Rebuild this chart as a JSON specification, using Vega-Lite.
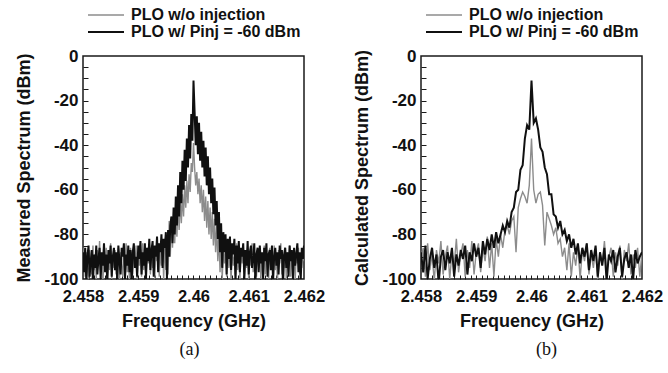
{
  "$schema": "https://vega.github.io/schema/vega-lite/v6.json",
  "padding": {"left": 15, "top": 6, "right": 5, "bottom": 5},
  "background": "white",
  "config": {
    "view": {"stroke": "#1a1a1a", "strokeWidth": 1.5},
    "font": "Liberation Sans",
    "axis": {"grid": false, "domain": false, "labelColor": "#111", "titleColor": "#111", "labelFont": "Liberation Sans", "titleFont": "Liberation Sans", "labelFontWeight": "bold", "titleFontWeight": "bold", "labelFontSize": 16.5, "titleFontSize": 18, "tickColor": "#1a1a1a", "tickWidth": 1, "labelFlush": false},
    "axisLeft": {"labelFontSize": 17},
    "legend": {"orient": "none", "title": null, "direction": "vertical", "symbolType": "M-3,0H3", "symbolSize": 144, "symbolStrokeWidth": 1.5, "labelFont": "Liberation Sans", "labelFontSize": 16, "labelFontWeight": "bold", "labelColor": "#111", "labelOffset": 17, "labelLimit": 0, "rowPadding": 1}
  },
  "datasets": {
    "a": [
{"f":2.458,"g":-92,"k":-88},{"f":2.45802,"g":-86,"k":-97},{"f":2.45804,"g":-99,"k":-86},{"f":2.45806,"g":-88,"k":-101},{"f":2.45808,"g":-95,"k":-90},{"f":2.4581,"g":-101,"k":-85},{"f":2.45812,"g":-87,"k":-99},{"f":2.45814,"g":-93,"k":-92},{"f":2.45816,"g":-98,"k":-87},{"f":2.45818,"g":-85,"k":-103},
{"f":2.4582,"g":-96,"k":-89},{"f":2.45822,"g":-89,"k":-95},{"f":2.45824,"g":-100,"k":-85},{"f":2.45826,"g":-87,"k":-98},{"f":2.45828,"g":-94,"k":-91},{"f":2.4583,"g":-83,"k":-86},{"f":2.45832,"g":-97,"k":-100},{"f":2.45834,"g":-91,"k":-88},{"f":2.45836,"g":-102,"k":-94},{"f":2.45838,"g":-88,"k":-84},
{"f":2.4584,"g":-93,"k":-97},{"f":2.45842,"g":-86,"k":-89},{"f":2.45844,"g":-99,"k":-102},{"f":2.45846,"g":-90,"k":-87},{"f":2.45848,"g":-96,"k":-93},{"f":2.4585,"g":-84,"k":-85},{"f":2.45852,"g":-100,"k":-99},{"f":2.45854,"g":-89,"k":-90},{"f":2.45856,"g":-95,"k":-86},{"f":2.45858,"g":-87,"k":-96},
{"f":2.4586,"g":-98,"k":-88},{"f":2.45862,"g":-92,"k":-101},{"f":2.45864,"g":-86,"k":-85},{"f":2.45866,"g":-101,"k":-92},{"f":2.45868,"g":-88,"k":-98},{"f":2.4587,"g":-94,"k":-86},{"f":2.45872,"g":-99,"k":-90},{"f":2.45874,"g":-87,"k":-84},{"f":2.45876,"g":-92,"k":-100},{"f":2.45878,"g":-84,"k":-89},
{"f":2.4588,"g":-97,"k":-94},{"f":2.45882,"g":-90,"k":-85},{"f":2.45884,"g":-100,"k":-97},{"f":2.45886,"g":-86,"k":-87},{"f":2.45888,"g":-93,"k":-103},{"f":2.4589,"g":-98,"k":-88},{"f":2.45892,"g":-88,"k":-84},{"f":2.45894,"g":-95,"k":-95},{"f":2.45896,"g":-85,"k":-90},{"f":2.45898,"g":-101,"k":-99},
{"f":2.459,"g":-89,"k":-85},{"f":2.45902,"g":-94,"k":-91},{"f":2.45904,"g":-87,"k":-83},{"f":2.45906,"g":-99,"k":-98},{"f":2.45908,"g":-84,"k":-88},{"f":2.4591,"g":-96,"k":-94},{"f":2.45912,"g":-90,"k":-84},{"f":2.45914,"g":-100,"k":-100},{"f":2.45916,"g":-86,"k":-86},{"f":2.45918,"g":-93,"k":-92},
{"f":2.4592,"g":-88,"k":-82},{"f":2.45922,"g":-98,"k":-96},{"f":2.45924,"g":-85,"k":-87},{"f":2.45926,"g":-95,"k":-83},{"f":2.45928,"g":-89,"k":-99},{"f":2.4593,"g":-100,"k":-85},{"f":2.45932,"g":-86,"k":-90},{"f":2.45934,"g":-92,"k":-81},{"f":2.45936,"g":-84,"k":-97},{"f":2.45938,"g":-99,"k":-84},
{"f":2.4594,"g":-87,"k":-88},{"f":2.45942,"g":-94,"k":-80},{"f":2.45944,"g":-85,"k":-95},{"f":2.45946,"g":-100,"k":-82},{"f":2.45948,"g":-83,"k":-86},{"f":2.4595,"g":-96,"k":-79},{"f":2.45952,"g":-88,"k":-100},{"f":2.45954,"g":-98,"k":-78},{"f":2.45956,"g":-74,"k":-90},{"f":2.45958,"g":-90,"k":-76},
{"f":2.4596,"g":-72,"k":-72},{"f":2.45962,"g":-86,"k":-84},{"f":2.45964,"g":-70,"k":-68},{"f":2.45966,"g":-84,"k":-80},{"f":2.45968,"g":-68,"k":-63},{"f":2.4597,"g":-81,"k":-76},{"f":2.45972,"g":-66,"k":-58},{"f":2.45974,"g":-78,"k":-72},{"f":2.45976,"g":-64,"k":-52},{"f":2.45978,"g":-75,"k":-66},
{"f":2.4598,"g":-62,"k":-47},{"f":2.45982,"g":-72,"k":-60},{"f":2.45984,"g":-58,"k":-42},{"f":2.45986,"g":-68,"k":-56},{"f":2.45988,"g":-56,"k":-37},{"f":2.4599,"g":-66,"k":-50},{"f":2.45992,"g":-53,"k":-31},{"f":2.45994,"g":-61,"k":-46},{"f":2.45996,"g":-48,"k":-26},{"f":2.45998,"g":-52,"k":-38},
{"f":2.46,"g":-39,"k":-11},{"f":2.46002,"g":-50,"k":-25},{"f":2.46004,"g":-58,"k":-40},{"f":2.46006,"g":-52,"k":-27},{"f":2.46008,"g":-62,"k":-44},{"f":2.4601,"g":-55,"k":-30},{"f":2.46012,"g":-66,"k":-47},{"f":2.46014,"g":-58,"k":-34},{"f":2.46016,"g":-70,"k":-50},{"f":2.46018,"g":-60,"k":-38},
{"f":2.4602,"g":-74,"k":-54},{"f":2.46022,"g":-63,"k":-41},{"f":2.46024,"g":-77,"k":-58},{"f":2.46026,"g":-65,"k":-45},{"f":2.46028,"g":-80,"k":-62},{"f":2.4603,"g":-68,"k":-50},{"f":2.46032,"g":-82,"k":-66},{"f":2.46034,"g":-70,"k":-55},{"f":2.46036,"g":-85,"k":-71},{"f":2.46038,"g":-73,"k":-59},
{"f":2.4604,"g":-88,"k":-76},{"f":2.46042,"g":-76,"k":-65},{"f":2.46044,"g":-92,"k":-82},{"f":2.46046,"g":-80,"k":-70},{"f":2.46048,"g":-97,"k":-88},{"f":2.4605,"g":-84,"k":-75},{"f":2.46052,"g":-100,"k":-95},{"f":2.46054,"g":-86,"k":-79},{"f":2.46056,"g":-93,"k":-88},{"f":2.46058,"g":-87,"k":-80},
{"f":2.4606,"g":-99,"k":-98},{"f":2.46062,"g":-85,"k":-82},{"f":2.46064,"g":-95,"k":-91},{"f":2.46066,"g":-88,"k":-81},{"f":2.46068,"g":-101,"k":-96},{"f":2.4607,"g":-86,"k":-84},{"f":2.46072,"g":-94,"k":-89},{"f":2.46074,"g":-90,"k":-82},{"f":2.46076,"g":-98,"k":-101},{"f":2.46078,"g":-84,"k":-85},
{"f":2.4608,"g":-96,"k":-93},{"f":2.46082,"g":-89,"k":-83},{"f":2.46084,"g":-100,"k":-97},{"f":2.46086,"g":-87,"k":-86},{"f":2.46088,"g":-93,"k":-90},{"f":2.4609,"g":-85,"k":-84},{"f":2.46092,"g":-99,"k":-100},{"f":2.46094,"g":-90,"k":-87},{"f":2.46096,"g":-95,"k":-94},{"f":2.46098,"g":-86,"k":-83},
{"f":2.461,"g":-101,"k":-98},{"f":2.46102,"g":-88,"k":-88},{"f":2.46104,"g":-94,"k":-85},{"f":2.46106,"g":-84,"k":-95},{"f":2.46108,"g":-97,"k":-91},{"f":2.4611,"g":-89,"k":-84},{"f":2.46112,"g":-92,"k":-102},{"f":2.46114,"g":-99,"k":-89},{"f":2.46116,"g":-87,"k":-86},{"f":2.46118,"g":-95,"k":-97},
{"f":2.4612,"g":-86,"k":-85},{"f":2.46122,"g":-100,"k":-93},{"f":2.46124,"g":-90,"k":-88},{"f":2.46126,"g":-94,"k":-100},{"f":2.46128,"g":-85,"k":-86},{"f":2.4613,"g":-98,"k":-92},{"f":2.46132,"g":-88,"k":-84},{"f":2.46134,"g":-93,"k":-99},{"f":2.46136,"g":-100,"k":-89},{"f":2.46138,"g":-86,"k":-87},
{"f":2.4614,"g":-95,"k":-96},{"f":2.46142,"g":-89,"k":-85},{"f":2.46144,"g":-99,"k":-101},{"f":2.46146,"g":-85,"k":-90},{"f":2.46148,"g":-96,"k":-86},{"f":2.4615,"g":-90,"k":-94},{"f":2.46152,"g":-101,"k":-88},{"f":2.46154,"g":-87,"k":-98},{"f":2.46156,"g":-93,"k":-85},{"f":2.46158,"g":-84,"k":-91},
{"f":2.4616,"g":-98,"k":-87},{"f":2.46162,"g":-89,"k":-103},{"f":2.46164,"g":-95,"k":-89},{"f":2.46166,"g":-86,"k":-86},{"f":2.46168,"g":-100,"k":-95},{"f":2.4617,"g":-88,"k":-88},{"f":2.46172,"g":-94,"k":-99},{"f":2.46174,"g":-85,"k":-85},{"f":2.46176,"g":-99,"k":-92},{"f":2.46178,"g":-90,"k":-87},
{"f":2.4618,"g":-96,"k":-100},{"f":2.46182,"g":-87,"k":-86},{"f":2.46184,"g":-101,"k":-94},{"f":2.46186,"g":-88,"k":-89},{"f":2.46188,"g":-93,"k":-84},{"f":2.4619,"g":-86,"k":-97},{"f":2.46192,"g":-98,"k":-88},{"f":2.46194,"g":-89,"k":-101},{"f":2.46196,"g":-95,"k":-86},{"f":2.46198,"g":-87,"k":-91},
{"f":2.462,"g":-92,"k":-85}
    ],
    "b": [
{"f":2.458,"g":-91,"k":-88},{"f":2.45804,"g":-86,"k":-97},{"f":2.45808,"g":-99,"k":-85},{"f":2.45812,"g":-84,"k":-100},{"f":2.45816,"g":-96,"k":-91},{"f":2.4582,"g":-89,"k":-86},{"f":2.45824,"g":-101,"k":-95},{"f":2.45828,"g":-87,"k":-89},{"f":2.45832,"g":-93,"k":-102},{"f":2.45836,"g":-83,"k":-90},
{"f":2.4584,"g":-98,"k":-87},{"f":2.45844,"g":-90,"k":-96},{"f":2.45848,"g":-85,"k":-88},{"f":2.45852,"g":-100,"k":-93},{"f":2.45856,"g":-88,"k":-86},{"f":2.4586,"g":-94,"k":-99},{"f":2.45864,"g":-82,"k":-89},{"f":2.45868,"g":-97,"k":-94},{"f":2.45872,"g":-89,"k":-87},{"f":2.45876,"g":-84,"k":-91},
{"f":2.4588,"g":-99,"k":-85},{"f":2.45884,"g":-87,"k":-98},{"f":2.45888,"g":-95,"k":-88},{"f":2.45892,"g":-83,"k":-92},{"f":2.45896,"g":-98,"k":-84},{"f":2.459,"g":-88,"k":-90},{"f":2.45904,"g":-84,"k":-86},{"f":2.45908,"g":-97,"k":-95},{"f":2.45912,"g":-86,"k":-83},{"f":2.45916,"g":-92,"k":-89},
{"f":2.4592,"g":-81,"k":-82},{"f":2.45924,"g":-95,"k":-87},{"f":2.45928,"g":-84,"k":-80},{"f":2.45932,"g":-99,"k":-86},{"f":2.45936,"g":-82,"k":-79},{"f":2.4594,"g":-90,"k":-84},{"f":2.45944,"g":-80,"k":-80},{"f":2.45948,"g":-86,"k":-76},{"f":2.45952,"g":-78,"k":-79},{"f":2.45956,"g":-76,"k":-74},
{"f":2.4596,"g":-80,"k":-77},{"f":2.45964,"g":-74,"k":-70},{"f":2.45968,"g":-72,"k":-68},{"f":2.45972,"g":-88,"k":-61},{"f":2.45976,"g":-68,"k":-60},{"f":2.4598,"g":-64,"k":-51},{"f":2.45984,"g":-61,"k":-49},{"f":2.45988,"g":-63,"k":-37},{"f":2.45992,"g":-66,"k":-31},{"f":2.45996,"g":-58,"k":-33},
{"f":2.46,"g":-37,"k":-11},{"f":2.46004,"g":-60,"k":-30},{"f":2.46008,"g":-66,"k":-28},{"f":2.46012,"g":-62,"k":-33},{"f":2.46016,"g":-61,"k":-41},{"f":2.4602,"g":-67,"k":-43},{"f":2.46024,"g":-85,"k":-50},{"f":2.46028,"g":-70,"k":-53},{"f":2.46032,"g":-73,"k":-62},{"f":2.46036,"g":-76,"k":-62},
{"f":2.4604,"g":-80,"k":-71},{"f":2.46044,"g":-77,"k":-72},{"f":2.46048,"g":-84,"k":-77},{"f":2.46052,"g":-82,"k":-74},{"f":2.46056,"g":-90,"k":-80},{"f":2.4606,"g":-86,"k":-78},{"f":2.46064,"g":-96,"k":-83},{"f":2.46068,"g":-84,"k":-80},{"f":2.46072,"g":-99,"k":-86},{"f":2.46076,"g":-88,"k":-82},
{"f":2.4608,"g":-94,"k":-89},{"f":2.46084,"g":-85,"k":-84},{"f":2.46088,"g":-100,"k":-93},{"f":2.46092,"g":-87,"k":-86},{"f":2.46096,"g":-92,"k":-90},{"f":2.461,"g":-84,"k":-84},{"f":2.46104,"g":-98,"k":-96},{"f":2.46108,"g":-89,"k":-87},{"f":2.46112,"g":-95,"k":-92},{"f":2.46116,"g":-86,"k":-85},
{"f":2.4612,"g":-101,"k":-99},{"f":2.46124,"g":-88,"k":-88},{"f":2.46128,"g":-93,"k":-94},{"f":2.46132,"g":-83,"k":-86},{"f":2.46136,"g":-97,"k":-101},{"f":2.4614,"g":-90,"k":-89},{"f":2.46144,"g":-86,"k":-92},{"f":2.46148,"g":-99,"k":-87},{"f":2.46152,"g":-88,"k":-97},{"f":2.46156,"g":-94,"k":-90},
{"f":2.4616,"g":-85,"k":-86},{"f":2.46164,"g":-100,"k":-99},{"f":2.46168,"g":-87,"k":-91},{"f":2.46172,"g":-92,"k":-88},{"f":2.46176,"g":-84,"k":-95},{"f":2.4618,"g":-98,"k":-89},{"f":2.46184,"g":-89,"k":-100},{"f":2.46188,"g":-95,"k":-87},{"f":2.46192,"g":-86,"k":-93},{"f":2.46196,"g":-99,"k":-90},
{"f":2.462,"g":-88,"k":-88}
    ]
  },
  "resolve": {"scale": {"color": "independent", "strokeWidth": "independent"}},
  "spacing": 27,
  "hconcat": [
    {
      "width": 221, "height": 223,
      "data": {"name": "a"},
      "transform": [{"fold": ["g", "k"], "as": ["s", "p"]}],
      "title": {"text": "(a)", "orient": "bottom", "frame": "group", "anchor": "middle", "font": "Liberation Serif", "fontSize": 18, "fontWeight": "normal", "color": "#111", "offset": 10, "dx": -4},
      "layer": [
        {
          "mark": {"type": "line", "clip": true},
          "encoding": {
            "x": {"field": "f", "type": "quantitative", "scale": {"domain": [2.458, 2.462], "nice": false, "zero": false}, "axis": {"orient": "bottom", "values": [2.458, 2.459, 2.46, 2.461, 2.462], "ticks": false, "labelExpr": "'' + datum.value", "labelPadding": 9, "title": "Frequency (GHz)", "titlePadding": 8}},
            "y": {"field": "p", "type": "quantitative", "scale": {"domain": [-100, 0], "nice": false, "zero": false}, "axis": {"orient": "left", "values": [-100, -80, -60, -40, -20, 0], "ticks": false, "labelExpr": "'' + datum.value", "labelPadding": 5, "title": "Measured Spectrum (dBm)", "titlePadding": 10}},
            "color": {"field": "s", "type": "nominal", "scale": {"domain": ["g", "k"], "range": ["#8c8c8c", "#101010"]}, "legend": {"legendX": 15, "legendY": -49, "labelExpr": "datum.value === 'g' ? 'PLO w/o injection' : 'PLO w/ Pinj = -60 dBm'"}},
            "strokeWidth": {"field": "s", "type": "nominal", "scale": {"domain": ["g", "k"], "range": [1.4, 2]}, "legend": null}
          }
        },
        {
          "mark": {"type": "point", "opacity": 0},
          "encoding": {
            "x": {"field": "f", "type": "quantitative", "axis": {"orient": "bottom", "values": [2.4581,2.4582,2.4583,2.4584,2.4585,2.4586,2.4587,2.4588,2.4589,2.459,2.4591,2.4592,2.4593,2.4594,2.4595,2.4596,2.4597,2.4598,2.4599,2.46,2.4601,2.4602,2.4603,2.4604,2.4605,2.4606,2.4607,2.4608,2.4609,2.461,2.4611,2.4612,2.4613,2.4614,2.4615,2.4616,2.4617,2.4618,2.4619], "labels": false, "ticks": true, "tickSize": -4, "title": null}},
            "y": {"field": "p", "type": "quantitative", "axis": {"orient": "left", "values": [-95,-90,-85,-80,-75,-70,-65,-60,-55,-50,-45,-40,-35,-30,-25,-20,-15,-10,-5], "labels": false, "ticks": true, "tickSize": -5, "title": null}}
          }
        }
      ],
      "resolve": {"axis": {"x": "independent", "y": "independent"}}
    },
    {
      "width": 221, "height": 223,
      "data": {"name": "b"},
      "transform": [{"fold": ["g", "k"], "as": ["s", "p"]}],
      "title": {"text": "(b)", "orient": "bottom", "frame": "group", "anchor": "middle", "font": "Liberation Serif", "fontSize": 18, "fontWeight": "normal", "color": "#111", "offset": 10, "dx": 15},
      "layer": [
        {
          "mark": {"type": "line", "clip": true},
          "encoding": {
            "x": {"field": "f", "type": "quantitative", "scale": {"domain": [2.458, 2.462], "nice": false, "zero": false}, "axis": {"orient": "bottom", "values": [2.458, 2.459, 2.46, 2.461, 2.462], "ticks": false, "labelExpr": "'' + datum.value", "labelPadding": 9, "title": "Frequency (GHz)", "titlePadding": 8}},
            "y": {"field": "p", "type": "quantitative", "scale": {"domain": [-100, 0], "nice": false, "zero": false}, "axis": {"orient": "left", "values": [-100, -80, -60, -40, -20, 0], "ticks": false, "labelExpr": "'' + datum.value", "labelPadding": 5, "title": "Calculated Spectrum (dBm)", "titlePadding": 10}},
            "color": {"field": "s", "type": "nominal", "scale": {"domain": ["g", "k"], "range": ["#8c8c8c", "#101010"]}, "legend": {"legendX": 15, "legendY": -49, "labelExpr": "datum.value === 'g' ? 'PLO w/o injection' : 'PLO w/ Pinj = -60 dBm'"}},
            "strokeWidth": {"field": "s", "type": "nominal", "scale": {"domain": ["g", "k"], "range": [1.4, 2]}, "legend": null}
          }
        },
        {
          "mark": {"type": "point", "opacity": 0},
          "encoding": {
            "x": {"field": "f", "type": "quantitative", "axis": {"orient": "bottom", "values": [2.4581,2.4582,2.4583,2.4584,2.4585,2.4586,2.4587,2.4588,2.4589,2.459,2.4591,2.4592,2.4593,2.4594,2.4595,2.4596,2.4597,2.4598,2.4599,2.46,2.4601,2.4602,2.4603,2.4604,2.4605,2.4606,2.4607,2.4608,2.4609,2.461,2.4611,2.4612,2.4613,2.4614,2.4615,2.4616,2.4617,2.4618,2.4619], "labels": false, "ticks": true, "tickSize": -4, "title": null}},
            "y": {"field": "p", "type": "quantitative", "axis": {"orient": "left", "values": [-95,-90,-85,-80,-75,-70,-65,-60,-55,-50,-45,-40,-35,-30,-25,-20,-15,-10,-5], "labels": false, "ticks": true, "tickSize": -5, "title": null}}
          }
        }
      ],
      "resolve": {"axis": {"x": "independent", "y": "independent"}}
    }
  ]
}
